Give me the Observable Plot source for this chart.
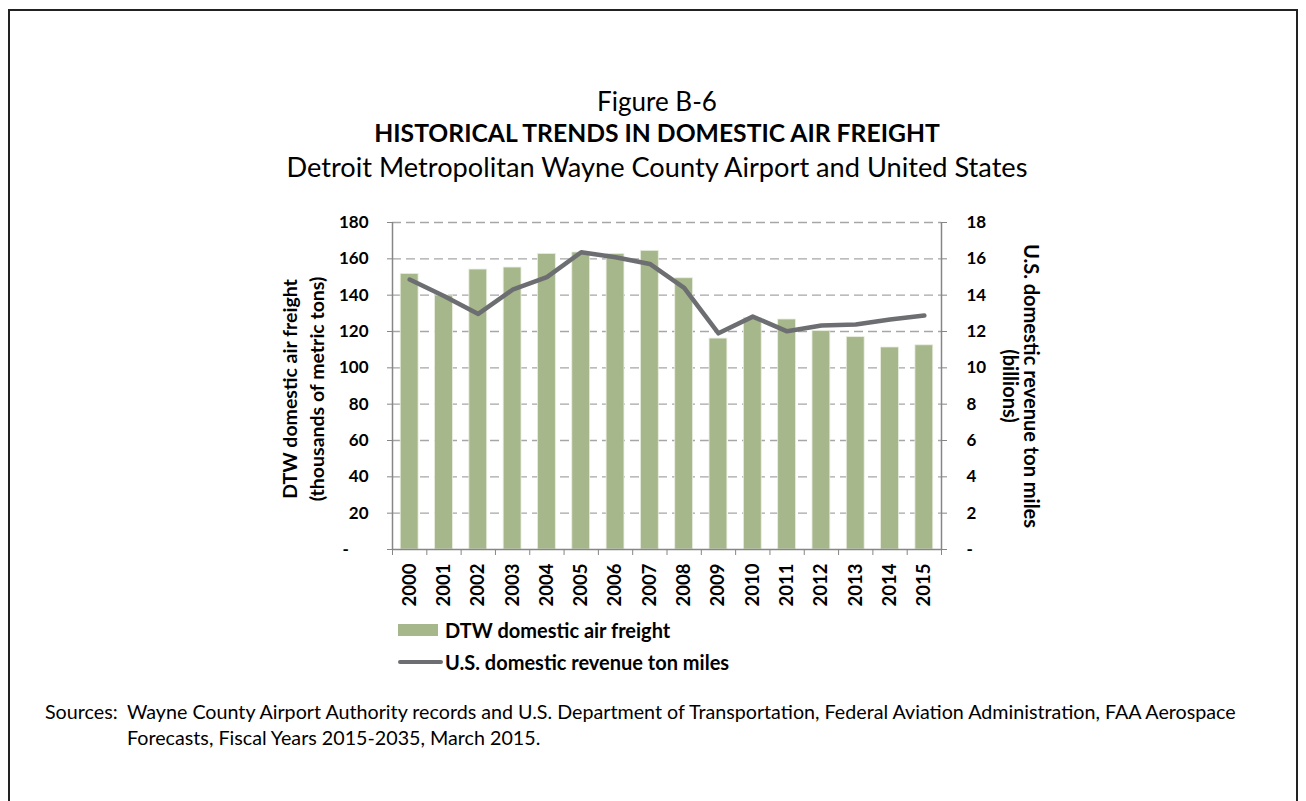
<!DOCTYPE html>
<html>
<head>
<meta charset="utf-8">
<script src="https://cdn.jsdelivr.net/npm/d3@7"></script>
<script src="https://cdn.jsdelivr.net/npm/@observablehq/plot@0.6"></script>
<style>
  html, body { margin: 0; padding: 0; background: #fff; width: 1306px; height: 801px; overflow: hidden; font-family: Lato, "Open Sans", sans-serif; color: #000; }
  .border { position: absolute; left: 8px; top: 9px; width: 1290px; height: 830px; border: 2px solid #222; box-sizing: border-box; }
  .t { position: absolute; left: 4px; width: 1306px; text-align: center; white-space: nowrap; }
  #chart { position: absolute; left: 0; top: 190px; }
  .leg { position: absolute; left: 398px; display: flex; align-items: center; font-weight: bold; font-size: 20px; white-space: nowrap; }
  .sw { width: 40px; height: 12px; background: #a6b78b; margin-right: 7px; }
  .ln { width: 45px; height: 4px; background: #6d6e71; margin-right: 2px; border-radius: 2px; }
  .src { position: absolute; left: 45px; top: 699px; font-size: 19.7px; line-height: 26px; display: flex; white-space: nowrap; }
  .src .lab { width: 82px; flex: none; }
</style>
</head>
<body>
<div class="border"></div>
<div class="t" style="top:85px;font-size:26px;">Figure B-6</div>
<div class="t" style="top:118px;font-size:24.7px;font-weight:bold;">HISTORICAL TRENDS IN DOMESTIC AIR FREIGHT</div>
<div class="t" style="top:150px;font-size:27.2px;">Detroit Metropolitan Wayne County Airport and United States</div>
<div id="chart"></div>
<div class="leg" style="top:618px;"><div class="sw"></div>DTW domestic air freight</div>
<div class="leg" style="top:650px;"><div class="ln"></div>U.S. domestic revenue ton miles</div>
<div class="src"><div class="lab">Sources:</div><div>Wayne County Airport Authority records and U.S. Department of Transportation, Federal Aviation Administration, FAA Aerospace<br>Forecasts, Fiscal Years 2015-2035, March 2015.</div></div>
<script>
// Data
const years = [2000, 2001, 2002, 2003, 2004, 2005, 2006, 2007, 2008, 2009, 2010, 2011, 2012, 2013, 2014, 2015];
const dtwFreight = [151.7, 139.8, 154.1, 155.2, 162.7, 163.5, 162.7, 164.4, 149.3, 116.1, 127.5, 126.6, 120.2, 116.9, 111.2, 112.4]; // thousands of metric tons
const usRtm = [14.86, 13.95, 12.97, 14.3, 14.99, 16.36, 16.09, 15.72, 14.4, 11.9, 12.82, 12.01, 12.33, 12.38, 12.66, 12.88]; // billions
const leftTicks = [0, 20, 40, 60, 80, 100, 120, 140, 160, 180];
const rightTicks = [0, 2, 4, 6, 8, 10, 12, 14, 16, 18];
const ratio = 10; // left units per right unit

const data = years.map((year, i) => ({year, dtw: dtwFreight[i], us: usRtm[i]}));
const xDomain = [years[0] - 0.5, years[years.length - 1] + 0.5];
const boundaries = years.map(y => y - 0.5).concat([years[years.length - 1] + 0.5]);

const axisColor = "#868686";
const chart = Plot.plot({
  width: 1306,
  height: 430,
  marginLeft: 392,
  marginRight: 365,
  marginTop: 32,
  marginBottom: 71,
  style: {fontFamily: "Lato, 'Open Sans', sans-serif", fontSize: "17px", fontWeight: "bold", color: "#000", background: "transparent", overflow: "visible"},
  x: {type: "linear", domain: xDomain},
  y: {domain: [0, 180]},
  marks: [
    Plot.ruleY(leftTicks.filter(d => d > 0), {stroke: "#a6a6a6", strokeWidth: 1.4, strokeDasharray: "9,5"}),
    Plot.rectY(data, {x1: d => d.year - 0.26, x2: d => d.year + 0.26, y: "dtw", fill: "#a6b78b", stroke: "#e9eedf", strokeWidth: 0.8}),
    Plot.ruleX([xDomain[0], xDomain[1]], {stroke: axisColor, strokeWidth: 1.5}),
    Plot.ruleY([0], {stroke: axisColor, strokeWidth: 1.5}),
    Plot.line(data, {x: "year", y: d => d.us * ratio, stroke: "#6d6e71", strokeWidth: 4.5, strokeLinejoin: "round", strokeLinecap: "round"}),
    Plot.axisY({anchor: "left", ticks: leftTicks, tickSize: 5, tickPadding: 19, stroke: axisColor, label: null,
      tickFormat: d => d === 0 ? "-\u2007\u2007" : String(d)}),
    Plot.axisY({anchor: "right", ticks: rightTicks.map(d => d * ratio), tickSize: 5, tickPadding: 20, stroke: axisColor, label: null,
      tickFormat: d => d === 0 ? "-" : String(d / ratio)}),
    Plot.axisX({ticks: boundaries, tickSize: 6, tickFormat: () => "", stroke: axisColor, label: null}),
    Plot.axisX({ticks: years, tickSize: 0, tickPadding: 14, tickRotate: -90, tickFormat: d => String(d), label: null, fontSize: 18.5}),
    Plot.text(["DTW domestic air freight\n(thousands of metric tons)"], {frameAnchor: "left", textAnchor: "middle", lineAnchor: "middle", dx: -90.5, dy: 3, rotate: -90, text: d => d, fontWeight: "bold", fontSize: 19.5, lineHeight: 1.35}),
    Plot.text(["U.S. domestic revenue ton miles\n(billions)"], {frameAnchor: "right", textAnchor: "middle", lineAnchor: "middle", dx: 79, rotate: 90, text: d => d, fontWeight: "bold", fontSize: 20, lineHeight: 1.05})
  ]
});
document.getElementById("chart").appendChild(chart);
</script>
</body>
</html>
